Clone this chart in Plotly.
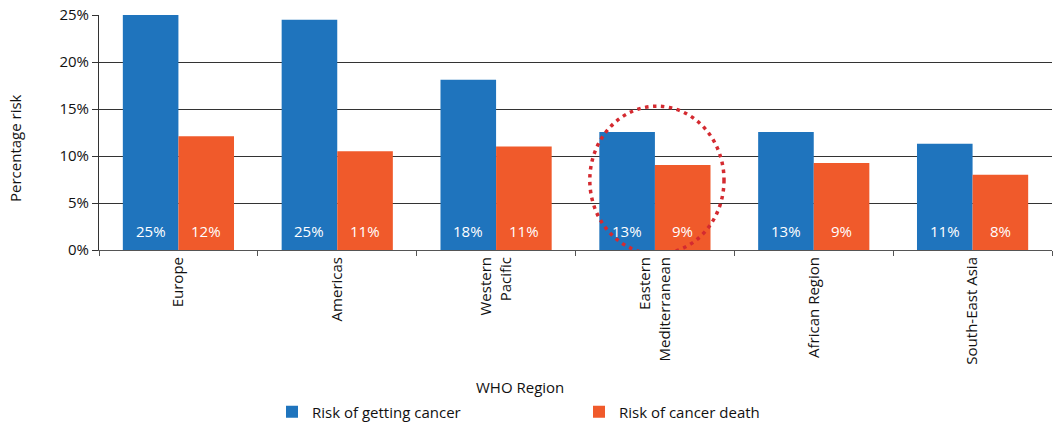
import plotly.graph_objects as go

# WHO regions and lifetime risk estimates (%)
regions = ["Europe", "Americas", "Western<br>Pacific", "Eastern<br>Mediterranean",
           "African Region", "South-East Asia"]
risk_getting = [25.0, 24.5, 18.1, 12.55, 12.55, 11.3]
risk_death = [12.1, 10.5, 11.0, 9.05, 9.25, 8.0]
y_ticks = [0, 5, 10, 15, 20, 25]
y_tick_labels = ["0%", "5%", "10%", "15%", "20%", "25%"]

BLUE = "#1f74bd"
ORANGE = "#f05a2b"
FONT = "Open Sans"
FS = 15

fig = go.Figure()
fig.add_trace(go.Bar(name="Risk of getting cancer", x=regions, y=risk_getting,
                     marker=dict(color=BLUE, line=dict(width=0))))
fig.add_trace(go.Bar(name="Risk of cancer death", x=regions, y=risk_death,
                     marker=dict(color=ORANGE, line=dict(width=0))))

# value labels near the base of each bar
annotations = []
for i, (a, b) in enumerate(zip(risk_getting, risk_death)):
    for off, v in ((-0.175, a), (0.175, b)):
        annotations.append(dict(x=i + off, y=0, xref="x", yref="y", yshift=19,
                                text=f"{int(v + 0.5)}%", showarrow=False,
                                font=dict(family=FONT, size=FS, color="white"),
                                xanchor="center", yanchor="middle"))

W, H = 1055, 424
ML, MR, MT, MB = 99, 3, 15, 174
pw, ph = W - ML - MR, H - MT - MB


def px_to_paper(x, y):
    return (x - ML) / pw, (H - MB - y) / ph


# axis titles
tx, ty = px_to_paper(520, 387)
annotations.append(dict(x=tx, y=ty, xref="paper", yref="paper", text="WHO Region",
                        showarrow=False, xanchor="center", yanchor="middle",
                        font=dict(family=FONT, size=FS, color="#111")))
tx, ty = px_to_paper(15, 148)
annotations.append(dict(x=tx, y=ty, xref="paper", yref="paper", text="Percentage risk",
                        textangle=-90, showarrow=False, xanchor="center", yanchor="middle",
                        font=dict(family=FONT, size=FS, color="#111")))

lx, ly = px_to_paper(272, 412)
fig.update_layout(
    width=W, height=H,
    margin=dict(l=ML, r=MR, t=MT, b=MB, pad=0, autoexpand=False),
    paper_bgcolor="white", plot_bgcolor="white",
    barmode="group", bargap=0.3, bargroupgap=0,
    font=dict(family=FONT, size=FS, color="#111"),
    annotations=annotations,
    legend=dict(orientation="h", x=lx, xanchor="left", y=ly, yanchor="middle",
                entrywidth=262, entrywidthmode="pixels",
                font=dict(family=FONT, size=FS, color="#111"),
                bgcolor="rgba(0,0,0,0)", traceorder="normal"),
    showlegend=True,
)

fig.update_xaxes(
    type="category", tickangle=-90, tickson="boundaries",
    ticks="outside", ticklen=5, tickcolor="#555",
    showline=True, linecolor="#555", linewidth=1,
    showgrid=False, tickfont=dict(family=FONT, size=FS, color="#111"),
    range=[-0.5, 5.5], automargin=False,
)
fig.update_yaxes(
    range=[0, 25], tickvals=y_ticks, ticktext=y_tick_labels,
    ticks="outside", ticklen=6, tickcolor="#333",
    showline=True, linecolor="#333", linewidth=1,
    showgrid=True, gridcolor="#333", gridwidth=1,
    zeroline=False, tickfont=dict(family=FONT, size=FS, color="#111"),
    automargin=False,
)

# dotted highlight ellipse around Eastern Mediterranean
fig.add_shape(type="circle", xref="x", yref="y",
              x0=2.59, x1=3.435, y0=-0.43, y1=15.3,
              line=dict(color="#d42a30", width=3.5, dash="3.5px,4.5px"),
              layer="above")

fig.write_html("out.html")
